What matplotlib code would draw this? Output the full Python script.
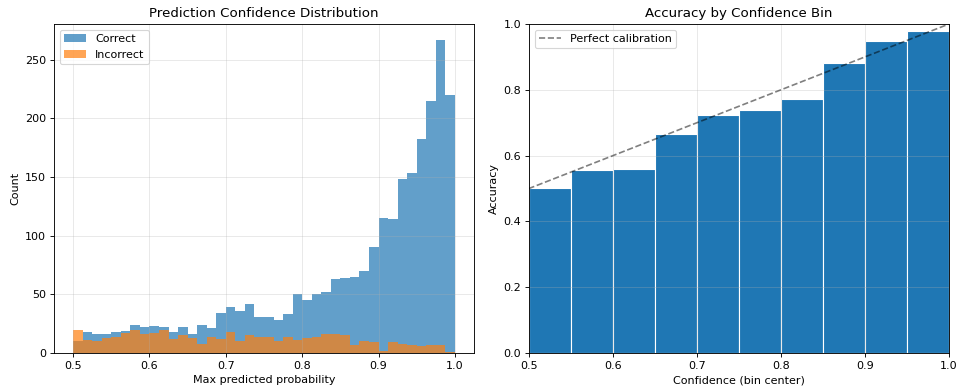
import numpy as np
import matplotlib.pyplot as plt

# histogram: 40 bins over [0.5, 1.0]
bin_edges = np.linspace(0.5, 1.0, 41)
correct_counts = [10, 18, 16, 16, 18, 19, 24, 22, 23, 22,
                  18, 22, 16, 24, 21, 34, 39, 36, 42, 31,
                  31, 28, 33, 50, 45, 50, 52, 63, 64, 65,
                  70, 90, 115, 114, 148, 153, 182, 215, 267, 220]
incorrect_counts = [20, 11, 10, 13, 14, 17, 20, 16, 17, 20,
                    12, 15, 13, 8, 14, 12, 18, 10, 15, 14,
                    14, 10, 14, 11, 13, 14, 16, 16, 15, 7,
                    10, 9, 2, 9, 8, 7, 6, 7, 7, 1]

# calibration: 10 bins of width 0.05
cal_centers = [0.525, 0.575, 0.625, 0.675, 0.725, 0.775, 0.825, 0.875, 0.925, 0.975]
cal_accuracy = [0.503, 0.555, 0.560, 0.665, 0.722, 0.738, 0.771, 0.881, 0.948, 0.980]

fig = plt.figure(figsize=(958 / 80, 392 / 80), dpi=80)
ax1 = fig.add_axes([0.0564, 0.0995, 0.4384, 0.8393])
ax2 = fig.add_axes([0.5522, 0.0995, 0.4384, 0.8393])

bin_mid = (bin_edges[:-1] + bin_edges[1:]) / 2
ax1.hist(bin_mid, bins=bin_edges, weights=correct_counts, alpha=0.7, label='Correct')
ax1.hist(bin_mid, bins=bin_edges, weights=incorrect_counts, alpha=0.7, label='Incorrect')
ax1.set_xlabel('Max predicted probability')
ax1.set_ylabel('Count')
ax1.set_title('Prediction Confidence Distribution')
ax1.legend(loc='upper left')
ax1.grid(True, alpha=0.3)

ax2.bar(cal_centers, cal_accuracy, width=0.05, edgecolor='white', linewidth=1)
ax2.plot([0, 1], [0, 1], 'k--', alpha=0.5, label='Perfect calibration')
ax2.set_xlim(0.5, 1.0)
ax2.set_ylim(0, 1.0)
ax2.set_xlabel('Confidence (bin center)')
ax2.set_ylabel('Accuracy')
ax2.set_title('Accuracy by Confidence Bin')
ax2.legend(loc='upper left')
ax2.grid(True, alpha=0.3)

fig.savefig('out.png', dpi=80)
